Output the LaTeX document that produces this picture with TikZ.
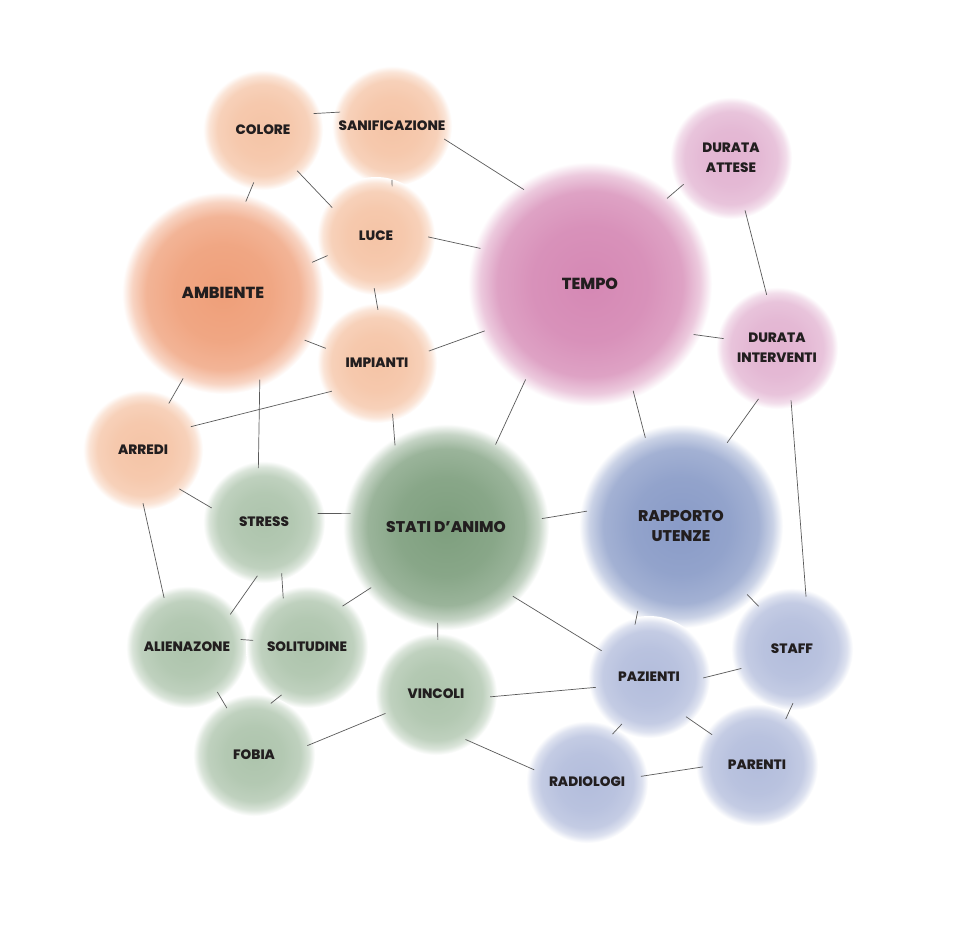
\documentclass[tikz,border=0pt]{standalone}
\usepackage{fontspec}
\setmainfont{Poppins}[BoldFont={Poppins ExtraBold}]
\usetikzlibrary{shadings}
\definecolor{orB}{HTML}{EF9F79}
\definecolor{orS}{HTML}{F5C4A6}
\definecolor{piB}{HTML}{D588B4}
\definecolor{piS}{HTML}{E2B3D1}
\definecolor{grB}{HTML}{7E9F7E}
\definecolor{grS}{HTML}{ADC4AC}
\definecolor{blB}{HTML}{899BC7}
\definecolor{blS}{HTML}{B3BDDC}
\definecolor{txt}{HTML}{221E1F}
\definecolor{lnc}{HTML}{5A5A5A}
\colorlet{bubc}{orB}
\pgfdeclareradialshading[bubc]{bubble}{\pgfpoint{0bp}{0bp}}{%
  color(0bp)=(bubc); color(12bp)=(bubc!92!white); color(19bp)=(bubc!78!white);
  color(22.5bp)=(bubc!45!white); color(25bp)=(white); color(50bp)=(white)}
\newcommand\bub[7]{%
  \colorlet{bubc}{#5}%
  \shade[shading=bubble] (#2,#3) circle (#4pt);
  \node[lbl, font=\bfseries\fontsize{#7}{20}\selectfont, minimum size={(2*#4-14)*1pt}] (#1) at (#2,#3) {#6};}
\tikzset{
  lbl/.style={circle, inner sep=0pt, align=center, text=txt},
  link/.style={draw=lnc, line width=0.7pt}
}
\begin{document}
\begin{tikzpicture}[x=1pt,y=-1pt]
\useasboundingbox (0,0) rectangle (960,943);
\fill[white] (0,0) rectangle (960,943);
% orange
\bub{colore}{263}{130}{60}{orS}{COLORE}{13.6}
\bub{sanif}{392}{126}{60}{orS}{SANIFICAZIONE}{13.6}
\bub{luce}{376}{236}{59}{orS}{LUCE}{13.6}
\bub{amb}{223}{293}{101}{orB}{AMBIENTE}{16}
\bub{imp}{377}{363}{60}{orS}{IMPIANTI}{13.6}
\bub{arr}{143}{450}{60}{orS}{ARREDI}{13.6}
% pink
\bub{tempo}{590}{284}{122}{piB}{TEMPO}{16}
\bub{datt}{731}{158}{61}{piS}{DURATA\\ATTESE}{13.6}
\bub{dint}{777}{348}{61}{piS}{DURATA\\INTERVENTI}{13.6}
% green
\bub{stress}{264}{522}{61}{grS}{STRESS}{13.6}
\bub{stati}{446}{527}{103}{grB}{STATI D’ANIMO}{15.5}
\bub{alien}{187}{647}{61}{grS}{ALIENAZONE}{13.6}
\bub{solit}{307}{647}{61}{grS}{SOLITUDINE}{13.6}
\bub{fobia}{254}{755}{61}{grS}{FOBIA}{13.6}
\bub{vinc}{436}{694}{61}{grS}{VINCOLI}{13.6}
% blue
\bub{rapp}{681}{526}{102}{blB}{RAPPORTO\\UTENZE}{15.5}
\bub{paz}{649}{677}{61}{blS}{PAZIENTI}{13.6}
\bub{staff}{792}{649}{61}{blS}{STAFF}{13.6}
\bub{radio}{587}{782}{61}{blS}{RADIOLOGI}{13.6}
\bub{par}{757}{765}{61}{blS}{PARENTI}{13.6}
% connectors
\draw[link] (colore.18) -- (sanif.165);
\draw[link] (colore.-100) -- (amb.76);
\draw[link] (colore.-50) -- (luce.147);
\draw[link] (sanif.-90) -- (luce.72);
\draw[link] (sanif.-14) -- (tempo.125);
\draw[link] (luce.202) -- (amb.19);
\draw[link] (luce.-1) -- (tempo.162);
\draw[link] (luce.-92) -- (imp.89);
\draw[link] (amb.-30) -- (imp.164);
\draw[link] (amb.245) -- (arr.61);
\draw[link] (amb.-67) -- (stress.96);
\draw[link] (imp.212) -- (arr.26);
\draw[link] (imp.13) -- (tempo.204);
\draw[link] (imp.-73) -- (stati.122);
\draw[link] (tempo.48) -- (datt.209);
\draw[link] (tempo.-26) -- (dint.170);
\draw[link] (tempo.236) -- (stati.59);
\draw[link] (tempo.-68) -- (rapp.112);
\draw[link] (datt.-75) -- (dint.101);
\draw[link] (dint.250) -- (rapp.61);
\draw[link] (dint.-75) -- (staff.75);
\draw[link] (arr.-47) -- (stress.165);
\draw[link] (arr.-90) -- (alien.115);
\draw[link] (stress.9) -- (stati.172);
\draw[link] (stress.-97) -- (alien.37);
\draw[link] (stress.-71) -- (solit.116);
\draw[link] (alien.8) -- (solit.173);
\draw[link] (alien.-56) -- (fobia.120);
\draw[link] (solit.242) -- (fobia.72);
\draw[link] (solit.49) -- (stati.219);
\draw[link] (stati.-95) -- (vinc.88);
\draw[link] (stati.5) -- (rapp.171);
\draw[link] (stati.-46) -- (paz.151);
\draw[link] (vinc.-3) -- (paz.191);
\draw[link] (vinc.201) -- (fobia.10);
\draw[link] (vinc.-57) -- (radio.167);
\draw[link] (rapp.243) -- (paz.105);
\draw[link] (rapp.-46) -- (staff.128);
\draw[link] (paz.-1) -- (staff.201);
\draw[link] (paz.240) -- (radio.62);
\draw[link] (paz.-47) -- (par.146);
\draw[link] (staff.-89) -- (par.58);
\draw[link] (radio.6) -- (par.182);
\end{tikzpicture}
\end{document}
